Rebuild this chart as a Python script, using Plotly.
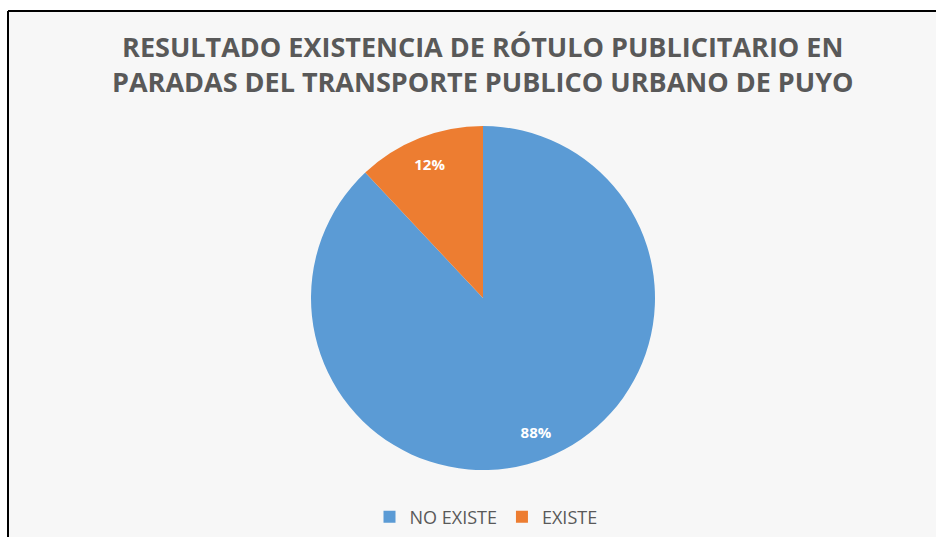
import plotly.graph_objects as go

labels = ["NO EXISTE", "EXISTE"]
values = [88, 12]
colors = ["#5b9bd5", "#ed7d31"]
title_lines = ["RESULTADO EXISTENCIA DE RÓTULO PUBLICITARIO EN",
               "PARADAS DEL TRANSPORTE PUBLICO URBANO DE PUYO"]

W, H = 936, 537

cx, cy, r = 483, 298, 172
dom = dict(x=[(cx - r) / W, (cx + r) / W], y=[(H - (cy + r)) / H, (H - (cy - r)) / H])

fig = go.Figure()
fig.add_trace(go.Pie(
    labels=labels, values=values, sort=False, direction="clockwise", rotation=0,
    marker=dict(colors=colors, line=dict(width=0)),
    textinfo="none", domain=dom, showlegend=True,
))
fig.add_trace(go.Pie(
    labels=labels, values=values, sort=False, direction="clockwise", rotation=0,
    hole=0.68,
    marker=dict(colors=["rgba(0,0,0,0)"] * len(labels), line=dict(width=0)),
    texttemplate="%{percent:.0%}", textposition="inside",
    insidetextorientation="horizontal",
    textfont=dict(family="Open Sans", size=15, color="white", weight="bold"),
    domain=dom, showlegend=False, hoverinfo="skip",
))

top = (H - 11) / H
left = 8 / W
fig.update_layout(
    width=W, height=H,
    margin=dict(l=0, r=0, t=0, b=0),
    paper_bgcolor="white",
    plot_bgcolor="white",
    shapes=[
        dict(type="rect", xref="paper", yref="paper",
             x0=left, x1=1.05, y0=-0.05, y1=top,
             fillcolor="#f7f7f7", line=dict(width=0), layer="below"),
        dict(type="line", xref="paper", yref="paper",
             x0=left, x1=1.05, y0=top, y1=top,
             line=dict(color="black", width=2), layer="below"),
        dict(type="line", xref="paper", yref="paper",
             x0=left, x1=left, y0=-0.05, y1=top,
             line=dict(color="black", width=2), layer="below"),
    ],
    annotations=[dict(text="<br>".join(title_lines), x=483 / W, y=(H - 64.5) / H,
                      xref="paper", yref="paper", xanchor="center", yanchor="middle",
                      showarrow=False, align="center",
                      font=dict(family="Open Sans", size=27, color="#595959", weight="bold"))],
    legend=dict(orientation="h", x=486 / W, xanchor="center",
                y=(H - 517) / H, yanchor="middle",
                font=dict(family="Open Sans", size=18, color="#595959"),
                bgcolor="rgba(0,0,0,0)", itemwidth=30, traceorder="normal"),
)

fig.write_html("out.html",
               config={"displayModeBar": False},
               post_script="document.body.style.margin='0';document.body.style.overflow='hidden';")
